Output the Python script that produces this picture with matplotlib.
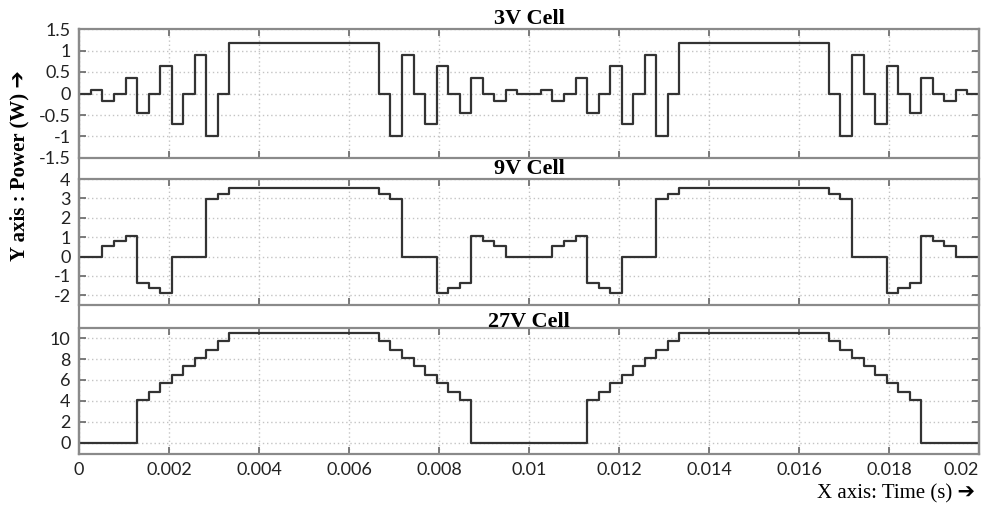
import numpy as np
import matplotlib
matplotlib.use("Agg")
import matplotlib.pyplot as plt
from matplotlib.lines import Line2D

plt.rcParams['axes.unicode_minus'] = False

# switching instants (s) and the output level that starts at each one
t_switch = [0, 0.00027, 0.00052, 0.00078, 0.00104, 0.00129, 0.00155, 0.00180,
            0.00206, 0.00232, 0.00257, 0.00283, 0.00309, 0.00334,
            0.00667, 0.00692, 0.00718, 0.00744, 0.00769, 0.00795, 0.00821,
            0.00846, 0.00872, 0.00897, 0.00923, 0.00949, 0.00974,
            0.01027, 0.01052, 0.01078, 0.01104, 0.01129, 0.01155, 0.01180,
            0.01206, 0.01232, 0.01257, 0.01283, 0.01309, 0.01334,
            0.01667, 0.01692, 0.01718, 0.01744, 0.01769, 0.01795, 0.01821,
            0.01846, 0.01872, 0.01897, 0.01923, 0.01949, 0.01974]
level = [0, 1, 2, 3, 4, 5, 6, 7, 8, 9, 10, 11, 12, 13,
         12, 11, 10, 9, 8, 7, 6, 5, 4, 3, 2, 1, 0,
         1, 2, 3, 4, 5, 6, 7, 8, 9, 10, 11, 12, 13,
         12, 11, 10, 9, 8, 7, 6, 5, 4, 3, 2, 1, 0]
t_end = 0.0201

# power of each cell (W) at output levels 0..13
p_3v = [0, 0.09, -0.18, 0, 0.36, -0.45, 0, 0.63, -0.72, 0, 0.90, -0.99, 0, 1.17]
p_9v = [0, 0, 0.54, 0.81, 1.08, -1.35, -1.62, -1.89, 0, 0, 0, 2.97, 3.24, 3.51]
p_27v = [0, 0, 0, 0, 0, 4.05, 4.86, 5.67, 6.48, 7.29, 8.10, 8.91, 9.72, 10.53]

titles = ['3V Cell', '9V Cell', '27V Cell']
yticks = [[-1.5, -1, -0.5, 0, 0.5, 1, 1.5],
          [-2, -1, 0, 1, 2, 3, 4],
          [0, 2, 4, 6, 8, 10]]
ylims = [(-1.5, 1.5), (-2.5, 4.0), (-1.1, 11)]
xticks = [0, 0.002, 0.004, 0.006, 0.008, 0.01, 0.012, 0.014, 0.016, 0.018, 0.02]
xticklabels = ['0', '0.002', '0.004', '0.006', '0.008', '0.01',
               '0.012', '0.014', '0.016', '0.018', '0.02']

W, H = 982, 507
fig = plt.figure(figsize=(W / 100, H / 100), dpi=100)

# panel boxes in pixels: (top, bottom)
boxes = [(29, 158), (179, 305), (327.7, 454)]
x0, x1 = 79, 979
title_pads = [3.5, -0.8, 0.5]

t = np.array(t_switch + [t_end])
lv = np.array(level + [level[-1]])
series = [np.array(p_3v)[lv], np.array(p_9v)[lv], np.array(p_27v)[lv]]

spine_col = '#8a8a8a'
tick_font = dict(family=['Lato', 'DejaVu Sans'], size=13)
serif = ['Liberation Serif', 'DejaVu Sans']

axes = []
for i, (top, bot) in enumerate(boxes):
    ax = fig.add_axes([x0 / W, 1 - bot / H, (x1 - x0) / W, (bot - top) / H])
    ax.plot(t, series[i], drawstyle='steps-post', color='#333333', lw=1.6)
    ax.set_xlim(0, 0.02)
    ax.set_ylim(*ylims[i])
    ax.set_yticks(yticks[i])
    ax.set_yticklabels([('%g' % v) for v in yticks[i]], **tick_font, color='#222222')
    ax.set_xticks(xticks)
    if i == 2:
        labels = ax.set_xticklabels(xticklabels, **tick_font, color='#222222')
        # last label pulled inside the right edge
        labels[-1].set_horizontalalignment('right')
    else:
        ax.set_xticklabels([])
    ax.grid(True, linestyle=(0, (1, 2)), color='#c4c4c4', lw=1)
    ax.tick_params(direction='in', length=5, width=1.2, color='#666666',
                   top=True, right=True, pad=6)
    for s in ax.spines.values():
        s.set_color(spine_col)
        s.set_linewidth(1.6)
    ax.set_title(titles[i], family=serif, fontweight='bold', fontsize=16,
                 pad=title_pads[i])
    axes.append(ax)

# continuous frame lines down both sides of the stack
for xp in (x0, x1):
    fig.add_artist(Line2D([xp / W, xp / W], [1 - boxes[0][0] / H, 1 - boxes[2][1] / H],
                          transform=fig.transFigure, color=spine_col, lw=1.6))

fig.text(19 / W, 1 - 166 / H, 'Y axis : Power (W) \u2794', rotation=90,
         family=serif, fontweight='bold', fontsize=15, ha='center', va='center')
fig.text(975 / W, 1 - 494 / H, 'X axis: Time (s) \u2794', family=serif,
         fontsize=15, ha='right', va='center')

fig.savefig('out.png', dpi=100)
